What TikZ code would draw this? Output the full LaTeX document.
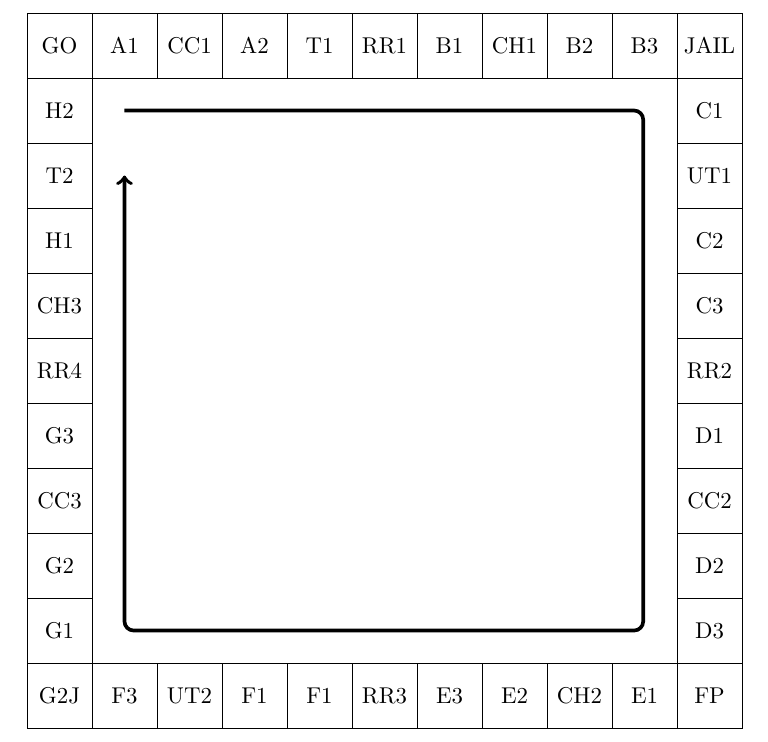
\documentclass[tikz,border=0pt]{standalone}
\usepackage{amsmath}
\usetikzlibrary{positioning}

\begin{document}
\begin{tikzpicture}[cell/.style={rectangle, draw, minimum size=1cm, inner sep=0pt}, route/.style={->, ultra thick, rounded corners=4pt}]
  {
  \useasboundingbox (-0.415,-0.2) rectangle (11.4,11.2);
  % board squares
  \foreach \lab [count=\i from 0] in {GO,A1,CC1,A2,T1,RR1,B1,CH1,B2,B3,JAIL}
    \node[cell] (top\i) at (\i+0.5,10.5) {\lab};
  \foreach \lab [count=\i from 0] in {G2J,F3,UT2,F1,F1,RR3,E3,E2,CH2,E1,FP}
    \node[cell] (bot\i) at (\i+0.5,0.5) {\lab};
  \foreach \lab [count=\j from 1] in {G1,G2,CC3,G3,RR4,CH3,H1,T2,H2}
    \node[cell] (left\j) at (0.5,\j+0.5) {\lab};
  \foreach \lab [count=\j from 1] in {D3,D2,CC2,D1,RR2,C3,C2,UT1,C1}
    \node[cell] (right\j) at (10.5,\j+0.5) {\lab};

  % direction of play
  \coordinate (start) at (1.5,9.5);
  \coordinate (cornerA) at (9.48,9.5);
  \coordinate (cornerB) at (9.48,1.5);
  \coordinate (cornerC) at (1.5,1.5);
  \coordinate (finish) at (1.5,8.5);
  \draw[route] (start) -- (cornerA) -- (cornerB) -- (cornerC) -- (finish);
}
\end{tikzpicture}
\end{document}
